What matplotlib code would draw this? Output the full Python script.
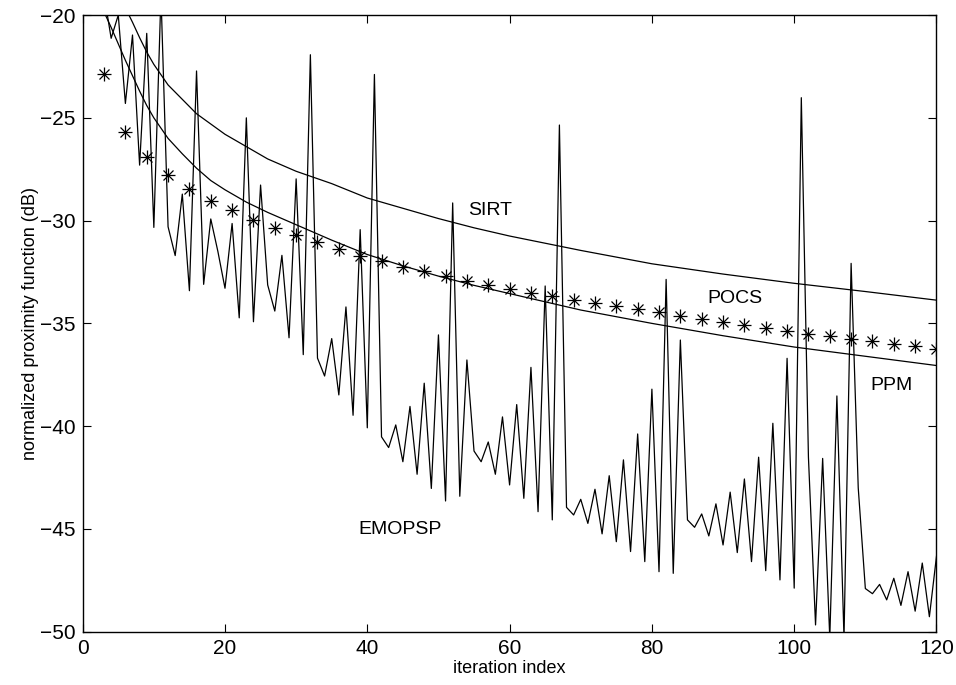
import matplotlib
matplotlib.use("Agg")
import matplotlib.pyplot as plt
import numpy as np

plt.rcParams['font.family'] = ['Liberation Sans', 'DejaVu Sans']

# EMOPSP (iterations 3..120)
emopsp_iter = list(range(3, 121))
emopsp_vals = [
    -19.0, -21.13, -20.0, -24.30, -20.97, -27.30, -20.89, -30.33, -19.0, -30.30,   # 3-12
    -31.70, -28.71, -33.41, -22.72, -33.10, -29.92, -31.5, -33.29, -30.14, -34.73,  # 13-22
    -25.0, -34.92, -28.27, -33.13, -34.4, -31.69, -35.7, -27.97, -36.52, -21.93,    # 23-32
    -36.69, -37.56, -35.74, -38.48, -34.2, -39.47, -30.44, -40.08, -22.89, -40.52,  # 33-42
    -41.04, -39.94, -41.73, -39.04, -42.34, -37.91, -43.03, -35.56, -43.64, -29.14, # 43-52
    -43.41, -36.78, -41.21, -41.73, -40.77, -42.34, -39.55, -42.86, -38.95, -43.51, # 53-62
    -37.14, -44.16, -33.18, -44.56, -25.35, -43.95, -44.32, -43.56, -44.73, -43.07, # 63-72
    -45.24, -42.41, -45.62, -41.64, -46.1, -40.38, -46.59, -38.2, -47.08, -32.86,   # 73-82
    -47.16, -35.81, -44.56, -44.92, -44.27, -45.34, -43.78, -45.78, -43.21, -46.15, # 83-92
    -42.57, -46.59, -41.51, -47.03, -39.86, -47.48, -36.7, -47.88, -24.02, -41.5,   # 93-102
    -49.67, -41.57, -50.3, -38.53, -50.3, -32.08, -43.0, -47.9, -48.15, -47.7,      # 103-112
    -48.45, -47.4, -48.72, -47.08, -49.0, -46.66, -49.27, -46.33,                   # 113-120
]

# POCS (every 3 iterations)
pocs_iter = list(range(3, 121, 3))
pocs_vals = [
    -22.87, -25.71, -26.91, -27.77, -28.46, -29.03, -29.50, -29.97, -30.38, -30.72,
    -31.04, -31.40, -31.70, -31.97, -32.25, -32.45, -32.70, -32.94, -33.13, -33.33,
    -33.50, -33.67, -33.86, -34.00, -34.15, -34.30, -34.45, -34.64, -34.79, -34.93,
    -35.08, -35.22, -35.37, -35.52, -35.61, -35.76, -35.86, -36.00, -36.10, -36.25,
]

# SIRT
sirt_iter = [6, 7, 8, 9, 10, 12, 14, 16, 18, 20, 23, 26, 30, 35, 40, 45, 50, 55, 60,
             70, 80, 90, 100, 110, 120]
sirt_vals = [-19.65, -20.35, -21.1, -21.8, -22.4, -23.4, -24.1, -24.8, -25.3, -25.8,
             -26.4, -27.0, -27.6, -28.2, -28.9, -29.4, -29.9, -30.35, -30.75,
             -31.45, -32.1, -32.6, -33.05, -33.45, -33.87]

# PPM
ppm_iter = [3, 4, 5, 6, 7, 8, 9, 10, 12, 14, 16, 18, 20, 23, 26, 30, 35, 40, 45, 50,
            55, 60, 70, 80, 90, 100, 110, 120]
ppm_vals = [-19.85, -20.6, -21.4, -22.2, -22.95, -23.7, -24.4, -25.0, -26.0, -26.75,
            -27.45, -28.05, -28.5, -29.1, -29.6, -30.2, -30.95, -31.65, -32.2, -32.7,
            -33.15, -33.55, -34.35, -35.0, -35.6, -36.15, -36.6, -37.05]

labels = {"SIRT": (57.2, -29.5), "POCS": (91.7, -33.8), "PPM": (113.7, -38.0),
          "EMOPSP": (44.6, -45.05)}

fig = plt.figure(figsize=(9.56, 6.85), dpi=100)
ax = fig.add_axes([0.0865, 0.0778, 0.8931, 0.9002])

lw = 0.9
ax.plot(sirt_iter, sirt_vals, color='black', lw=lw)
ax.plot(ppm_iter, ppm_vals, color='black', lw=lw)
ax.plot(emopsp_iter, emopsp_vals, color='black', lw=lw)
ax.plot(pocs_iter, pocs_vals, linestyle='none', marker='+', ms=10, mew=0.9, color='black')
ax.plot(pocs_iter, pocs_vals, linestyle='none', marker='x', ms=7, mew=0.9, color='black')

for txt, (x, y) in labels.items():
    ax.text(x, y, txt, fontsize=14, ha='center', va='center')

ax.set_xlim(0, 120)
ax.set_ylim(-50, -20)
ax.set_xticks(np.arange(0, 121, 20))
ax.set_yticks(np.arange(-50, -19, 5))
ax.tick_params(direction='in', top=True, right=True, labelsize=15, length=6, width=0.8)
ax.tick_params(axis='x', pad=5)
ax.tick_params(axis='y', pad=5)
for s in ax.spines.values():
    s.set_linewidth(1.0)
ax.set_xlabel('iteration index', fontsize=13, labelpad=2)
ax.set_ylabel('normalized proximity function (dB)', fontsize=13, labelpad=1)

fig.savefig('out.png', dpi=100)
